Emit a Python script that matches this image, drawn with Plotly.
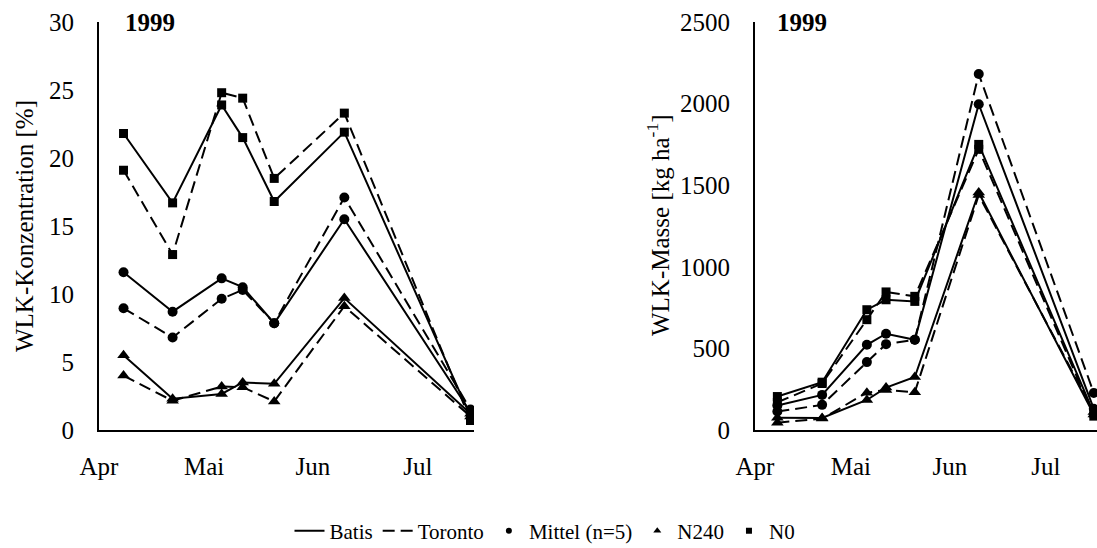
import plotly.graph_objects as go

# Sampling dates (1999)
dates = ["1999-04-08", "1999-04-22", "1999-05-06", "1999-05-12",
         "1999-05-21", "1999-06-10", "1999-07-16"]

month_ticks = ["1999-04-01", "1999-05-01", "1999-06-01", "1999-07-01"]
month_labels = ["Apr", "Mai", "Jun", "Jul"]

# WLK-Konzentration [%]
conc_batis_mittel = [11.6, 8.7, 11.15, 10.5, 7.85, 15.5, 1.3]
conc_toronto_mittel = [8.95, 6.8, 9.65, 10.3, 7.85, 17.1, 1.5]
conc_batis_n240 = [5.5, 2.3, 2.65, 3.5, 3.4, 9.7, 1.2]
conc_toronto_n240 = [4.0, 2.15, 3.2, 3.15, 2.1, 9.1, 1.0]
conc_batis_n0 = [21.8, 16.7, 23.9, 21.5, 16.8, 21.9, 1.0]
conc_toronto_n0 = [19.1, 12.9, 24.8, 24.4, 18.5, 23.3, 0.7]

# WLK-Masse [kg/ha]
mass_batis_mittel = [150, 215, 522, 590, 553, 1996, 130]
mass_toronto_mittel = [113, 154, 416, 526, 553, 2181, 227]
mass_batis_n240 = [75, 74, 184, 260, 325, 1455, 95]
mass_toronto_n240 = [45, 70, 229, 245, 232, 1440, 110]
mass_batis_n0 = [205, 293, 737, 798, 788, 1750, 104]
mass_toronto_n0 = [170, 285, 676, 846, 819, 1720, 85]

FONT = "Liberation Serif"
FS = 25
SOLID = "solid"
DASHED = "12px,6px"

marker_shapes = {"mittel": ("circle", 10), "n240": ("triangle-up", 11), "n0": ("square", 9)}

fig = go.Figure()


def add_series(y, dash, kind, xa, ya):
    sym, size = marker_shapes[kind]
    fig.add_trace(go.Scatter(
        x=dates, y=y, mode="lines+markers",
        line=dict(color="black", width=2, dash=dash),
        marker=dict(symbol=sym, size=size, color="black"),
        showlegend=False, xaxis=xa, yaxis=ya,
    ))


left = [
    (conc_batis_n240, SOLID, "n240"), (conc_toronto_n240, DASHED, "n240"),
    (conc_batis_mittel, SOLID, "mittel"), (conc_toronto_mittel, DASHED, "mittel"),
    (conc_batis_n0, SOLID, "n0"), (conc_toronto_n0, DASHED, "n0"),
]
right = [
    (mass_batis_n240, SOLID, "n240"), (mass_toronto_n240, DASHED, "n240"),
    (mass_batis_mittel, SOLID, "mittel"), (mass_toronto_mittel, DASHED, "mittel"),
    (mass_batis_n0, SOLID, "n0"), (mass_toronto_n0, DASHED, "n0"),
]
for y, d, k in left:
    add_series(y, d, k, "x", "y")
for y, d, k in right:
    add_series(y, d, k, "x2", "y2")

# Legend entries
fig.add_trace(go.Scatter(x=[None], y=[None], mode="lines", name="Batis",
                         line=dict(color="black", width=2, dash=SOLID)))
fig.add_trace(go.Scatter(x=[None], y=[None], mode="lines", name="Toronto",
                         line=dict(color="black", width=2, dash=DASHED)))
fig.add_trace(go.Scatter(x=[None], y=[None], mode="markers", name="Mittel (n=5)",
                         marker=dict(symbol="circle", size=6, color="black")))
fig.add_trace(go.Scatter(x=[None], y=[None], mode="markers", name="N240",
                         marker=dict(symbol="triangle-up", size=7, color="black")))
fig.add_trace(go.Scatter(x=[None], y=[None], mode="markers", name="N0",
                         marker=dict(symbol="square", size=6, color="black")))

W, H = 1097, 548
ydom = [(H - 430) / H, (H - 22) / H]

xcommon = dict(
    type="date", range=["1999-04-01", "1999-07-17"],
    tickvals=month_ticks, ticktext=month_labels,
    showline=True, linecolor="black", linewidth=2, mirror=False,
    showgrid=False, zeroline=False, ticks="", automargin=False,
    tickfont=dict(family=FONT, size=FS, color="black"),
    ticklabelstandoff=13,
)
ycommon = dict(
    showline=True, linecolor="black", linewidth=2,
    showgrid=False, zeroline=False, ticks="", automargin=False,
    tickfont=dict(family=FONT, size=FS, color="black"),
    ticklabelstandoff=18,
)

fig.update_layout(
    width=W, height=H,
    margin=dict(l=0, r=0, t=0, b=0, autoexpand=False),
    paper_bgcolor="white", plot_bgcolor="white",
    font=dict(family=FONT, size=FS, color="black"),
    xaxis=dict(domain=[99 / W, 474 / W], anchor="y", **xcommon),
    yaxis=dict(domain=ydom, anchor="x", range=[0, 30], tickvals=[0, 5, 10, 15, 20, 25, 30], **ycommon),
    xaxis2=dict(domain=[755 / W, 1.0], anchor="y2", **xcommon),
    yaxis2=dict(domain=ydom, anchor="x2", range=[0, 2500],
                tickvals=[0, 500, 1000, 1500, 2000, 2500], **ycommon),
    legend=dict(orientation="h", x=545 / W, xanchor="center", y=17 / H, yanchor="middle",
                font=dict(family=FONT, size=21, color="black"),
                bgcolor="rgba(0,0,0,0)", itemwidth=30, tracegroupgap=0),
    showlegend=True,
)

annotations = [
    dict(text="<b>1999</b>", x=150 / W, y=(H - 22) / H, xref="paper", yref="paper",
         showarrow=False, xanchor="center", yanchor="middle",
         font=dict(family=FONT, size=FS, color="black")),
    dict(text="<b>1999</b>", x=802 / W, y=(H - 22) / H, xref="paper", yref="paper",
         showarrow=False, xanchor="center", yanchor="middle",
         font=dict(family=FONT, size=FS, color="black")),
    dict(text="WLK-Konzentration [%]", x=24 / W, y=(H - 226) / H, xref="paper", yref="paper",
         showarrow=False, xanchor="center", yanchor="middle", textangle=-90,
         font=dict(family=FONT, size=FS, color="black")),
    dict(text="WLK-Masse [kg ha<sup>-1</sup>]", x=658 / W, y=(H - 226) / H, xref="paper", yref="paper",
         showarrow=False, xanchor="center", yanchor="middle", textangle=-90,
         font=dict(family=FONT, size=FS, color="black")),
]
fig.update_layout(annotations=annotations)

fig.write_html("out.html")
